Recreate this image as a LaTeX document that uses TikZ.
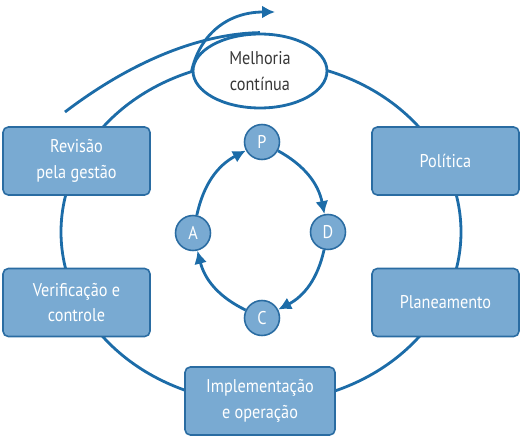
\documentclass[tikz,border=0pt]{standalone}
\usepackage{fontspec}
\setmainfont{PT Sans}[FakeStretch=0.88]
\usetikzlibrary{shapes.geometric,arrows.meta}
\definecolor{ciclolinha}{RGB}{28,108,168}
\definecolor{ciclofundo}{RGB}{121,170,210}
\definecolor{cicloborda}{RGB}{42,108,162}
\definecolor{ciclotexto}{RGB}{55,55,55}

\begin{document}
\begin{tikzpicture}[x=0.02cm,y=-0.02cm,font=\fontsize{10.5}{14.5}\selectfont,>={Latex[length=2.6mm,width=2.6mm]},
      etapa/.style={draw=cicloborda,line width=.9pt,fill=ciclofundo,rounded corners=3pt,text=white,
        align=center,minimum width=2.94cm,minimum height=1.36cm,inner sep=2pt},
      letra/.style={circle,draw=cicloborda,line width=.9pt,fill=ciclofundo,text=white,
        minimum size=.7cm,inner sep=0pt},
      anel/.style={ciclolinha,line width=1.6pt}]
      \useasboundingbox (0,0) rectangle (521,436);
      % anel exterior
      \draw[anel] (261,232) ellipse [x radius=200,y radius=171];
      \node[ellipse,draw=ciclolinha,line width=1.6pt,fill=white,text=ciclotexto,align=center,
        minimum width=2.68cm,minimum height=1.48cm,inner sep=0pt] (melh) at (260,71)
        {Melhoria\\contínua};
      \node[etapa] (rev) at (76.5,161) {Revisão\\pela gestão};
      \node[etapa] (pol) at (445.5,161) {Política};
      \node[etapa] (verif) at (76.5,302.5) {Verificação e\\controle};
      \node[etapa] (plan) at (445.5,302.5) {Planeamento};
      \node[etapa,minimum width=3cm] (impl) at (260,401) {Implementação\\e operação};
      % espiral de melhoria
      \coordinate (inicio) at (65,112);
      \coordinate (ponta) at (275,12);
      \draw[anel] (inicio) .. controls (120,70) and (190,34) .. (melh.north);
      \draw[anel,->] (melh.west) .. controls (200,34) and (228,12) .. (ponta);
      % ciclo PDCA
      \node[letra] (p) at (262,142) {P};
      \node[letra] (d) at (328,232) {D};
      \node[letra] (c) at (262,318) {C};
      \node[letra] (a) at (193,233) {A};
      \draw[anel,->] (a) to[bend left=25] (p);
      \draw[anel,->] (p) to[bend left=25] (d);
      \draw[anel,->] (d) to[bend left=25] (c);
      \draw[anel,->] (c) to[bend left=25] (a);
    \end{tikzpicture}
\end{document}
